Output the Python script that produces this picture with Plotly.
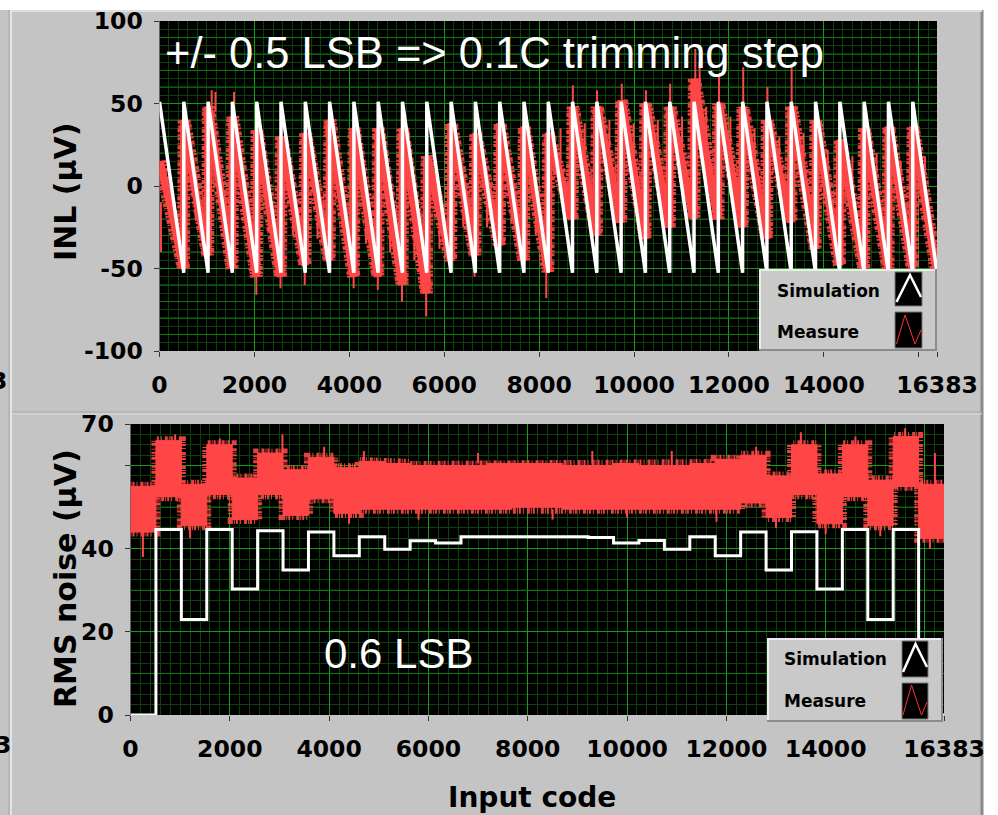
import plotly.graph_objects as go

W, H = 998, 815

# ---------------- data ----------------
segment_codes = [0, 512, 1024, 1536, 2048, 2560, 3072, 3584, 4096, 4608, 5120, 5632,
                 6144, 6656, 7168, 7680, 8192, 8704, 9216, 9728, 10240, 10752, 11264,
                 11776, 12288, 12800, 13312, 13824, 14336, 14848, 15360, 15872]
last_code = 16383

# INL (uV) - simulation sawtooth: value at start and end of each 512-code segment
sim_inl_start = [51, 51, 51, 51, 51, 51, 51, 51, 51, 51, 51, 51, 51, 51, 51, 51,
                 51, 51, 51, 51, 51, 51, 51, 51, 51, 51, 51, 51, 51, 51, 51, 51]
sim_inl_end = [-52.5, -52.5, -52.5, -52.5, -52.5, -52.5, -52.5, -52.5, -52.5, -52.5, -52.5,
               -52.5, -52.5, -52.5, -52.5, -52.5, -52.5, -52.5, -52.5, -52.5, -52.5, -52.5,
               -52.5, -52.5, -52.5, -52.5, -52.5, -52.5, -52.5, -52.5, -52.5, -52.5]

# INL (uV) - measurement, value at start, middle and end of each segment
meas_inl_start = [15, 40, 48, 42, 34, 30, 32, 40, 35, 35, 35, 18, 38, 32, 38, 36,
                  32, 48, 48, 52, 50, 48, 65, 50, 48, 40, 48, 40, 28, 35, 36, 36]
meas_inl_mid = [-15, -5, -2, -8, -12, -12, -10, -10, -14, -16, -18, -14, -4, -4, -6, -10,
                8, 10, 12, 10, 12, 14, 18, 12, 8, 8, 6, -4, -10, -8, -8, -8]
meas_inl_end = [-50, -42, -50, -55, -55, -48, -45, -55, -55, -60, -65, -45, -42, -36, -45, -52,
                -20, -30, -22, -32, -25, -20, -20, -25, -32, -22, -38, -48, -50, -50, -50, -52]
# isolated INL measurement spikes: code, from, to
inl_spike_code = [30, 1100, 1180, 1570, 2040, 2550, 3060, 4090, 4600, 5110, 5620, 6640,
                  8150, 8710, 9220, 9740, 10250, 10760, 11290, 11380, 11790, 12300, 12810, 13320,
                  760, 1290, 1800, 2300, 2810, 3330, 3850, 4350, 4860, 5370, 5900, 6400, 6900,
                  7420, 7930, 8450, 8960, 9480, 9990, 10500, 11010, 11520, 12030, 12540, 13060,
                  13570, 14080, 14600, 15110, 15620, 16130]
inl_spike_from = [-10, 45, 45, 40, -55, -50, -50, -50, -50, -55, -60, -40,
                  -50, 45, 45, 48, 45, 45, 60, 55, 48, 45, 40, 45,
                  0, 10, 5, -5, -5, -10, -5, -10, -10, -15, -10, 0, 0,
                  0, -5, 15, 15, 15, 15, 18, 20, 25, 18, 12, 10,
                  10, 0, -5, -5, -5, -5]
inl_spike_to = [-40, 58, 57, 57, -66, -62, -60, -62, -63, -70, -79, -55,
                -68, 61, 58, 62, 58, 62, 83, 75, 68, 72, 60, 72,
                -20, -15, -18, -28, -30, -32, -25, -35, -40, -45, -38, -25, -25,
                -22, -30, 35, 38, 40, 38, 40, 42, 48, 42, 35, 30,
                32, 22, 18, 20, 15, 18]

# RMS noise (uV) - simulation level per segment
sim_rms = [0, 44.6, 23.0, 44.6, 30.3, 44.3, 34.9, 44.0, 38.3, 42.9, 39.9, 41.9, 41.4, 42.9,
           42.9, 42.9, 42.9, 42.9, 42.7, 41.4, 42.0, 39.9, 42.9, 38.3, 44.0, 34.9, 44.1, 30.3,
           44.6, 23.0, 44.6, 0]
# RMS noise (uV) - measurement band per segment
meas_rms_low = [44, 52.5, 45.5, 53, 47, 53, 48, 52, 48.5, 49.5, 49.5, 49.5, 49.5, 49.5, 49.5, 50,
                50, 49.5, 49.5, 49.5, 49.5, 49.5, 49.5, 49.5, 51, 47.5, 53, 46, 52.5, 45.5, 55, 42.5]
meas_rms_high = [55, 66, 55.5, 65, 57, 63, 59, 62, 59.5, 61, 60.5, 60, 60, 60, 60.5, 60.5,
                 60.5, 60, 60, 60.5, 60, 60, 60.5, 61.5, 62.5, 57.5, 65, 58, 65, 56.5, 67, 55.5]
rms_spike_code = [250, 900, 1200, 1800, 3060, 3900, 4400, 4700, 5800, 7000, 8500, 9300, 10000,
                  10900, 11800, 12600, 13000, 13500, 14000, 14600, 15100, 15600, 16100, 16200]
rms_spike_from = [44, 66, 45.5, 65, 63, 62, 48.5, 61, 49.5, 60.5, 49.5, 60.5, 49.5,
                  60, 49.5, 62.5, 47.5, 65, 46, 65, 45.5, 67, 42.5, 55.5]
rms_spike_to = [38, 67.5, 42.5, 66.5, 67.5, 64.5, 46, 63.5, 47, 63, 47, 63.5, 47.5,
                63.5, 46.5, 64.5, 45, 68, 43.5, 67, 43, 69, 40, 63]

x_tickvals = [0, 2000, 4000, 6000, 8000, 10000, 12000, 14000, 16000, 16383]
x_ticktext = ["0", "2000", "4000", "6000", "8000", "10000", "12000", "14000", "", "16383"]
inl_tickvals = [-100, -50, 0, 50, 100]
inl_ticktext = ["-100", "-50", "0", "50", "100"]
rms_tickvals = [0, 20, 40, 60, 70]
rms_ticktext = ["0", "20", "40", "", "70"]

# ---------------- helpers ----------------
def px(x):
    return x / W


def py(y):
    return 1 - y / H


RED = "#ff4646"
GRID_MAJOR = "#12a012"
GRID_MED = "#0b7d0b"
GRID_MINOR = "#0b420b"
PANEL = "#c4c4c4"
FUZZ_INL = "3px,1px,2px,2px,4px,1px,1px,3px"
FUZZ_RMS = "1px,1px,2px,2px,1px,3px,3px,1px"

fig = go.Figure()

# ---- top: INL ----
mx, my = [], []
for k, c in enumerate(segment_codes):
    end = segment_codes[k + 1] if k + 1 < len(segment_codes) else last_code
    mx += [c + 6, (c + end) / 2, end - 8]
    my += [meas_inl_start[k], meas_inl_mid[k], meas_inl_end[k]]
fig.add_trace(go.Scatter(x=mx, y=my, mode="lines", line=dict(color=RED, width=13, dash=FUZZ_INL),
                         opacity=0.9, xaxis="x", yaxis="y", hoverinfo="skip"))
fig.add_trace(go.Scatter(x=mx, y=my, mode="lines", line=dict(color=RED, width=8),
                         xaxis="x", yaxis="y", hoverinfo="skip"))
sx, sy = [], []
for c, a, b in zip(inl_spike_code, inl_spike_from, inl_spike_to):
    sx += [c, c, None]
    sy += [a, b, None]
fig.add_trace(go.Scatter(x=sx, y=sy, mode="lines", line=dict(color=RED, width=2),
                         xaxis="x", yaxis="y", hoverinfo="skip"))
wx, wy = [], []
for k, c in enumerate(segment_codes):
    end = segment_codes[k + 1] - 1 if k + 1 < len(segment_codes) else last_code
    wx += [c, end]
    wy += [sim_inl_start[k], sim_inl_end[k]]
fig.add_trace(go.Scatter(x=wx, y=wy, mode="lines", line=dict(color="white", width=3.5),
                         xaxis="x", yaxis="y", hoverinfo="skip"))

# ---- bottom: RMS noise ----
ux, uy, lx, ly = [], [], [], []
for k, c in enumerate(segment_codes):
    end = segment_codes[k + 1] if k + 1 < len(segment_codes) else last_code
    ux += [c, end]
    uy += [meas_rms_high[k], meas_rms_high[k]]
    lx += [c, end]
    ly += [meas_rms_low[k], meas_rms_low[k]]
fig.add_trace(go.Scatter(x=ux + lx[::-1], y=uy + ly[::-1], mode="lines", fill="toself",
                         fillcolor=RED, line=dict(color=RED, width=1),
                         xaxis="x2", yaxis="y2", hoverinfo="skip"))
for ex, ey in ((ux, uy), (lx, ly)):
    fig.add_trace(go.Scatter(x=ex, y=ey, mode="lines",
                             line=dict(color=RED, width=9, dash=FUZZ_RMS),
                             opacity=0.9, xaxis="x2", yaxis="y2", hoverinfo="skip"))
sx, sy = [], []
for c, a, b in zip(rms_spike_code, rms_spike_from, rms_spike_to):
    sx += [c, c, None]
    sy += [a, b, None]
fig.add_trace(go.Scatter(x=sx, y=sy, mode="lines", line=dict(color=RED, width=2),
                         xaxis="x2", yaxis="y2", hoverinfo="skip"))
fig.add_trace(go.Scatter(x=segment_codes + [last_code], y=sim_rms + [sim_rms[-1]],
                         mode="lines", line=dict(color="white", width=3, shape="hv"),
                         xaxis="x2", yaxis="y2", hoverinfo="skip"))

tickfont = dict(family="DejaVu Sans", size=23.5, color="black", weight="bold")

common_x = dict(range=[0, last_code], tickmode="array", tickvals=x_tickvals, ticktext=x_ticktext,
                showgrid=True, gridcolor=GRID_MAJOR, gridwidth=1, zeroline=False,
                ticks="outside", ticklen=5, tickcolor="#333", tickfont=tickfont,
                ticklabelstandoff=8, showline=False, automargin=False,
                minor=dict(dtick=200, tick0=0, showgrid=True, gridcolor=GRID_MINOR, ticks=""))

fig.update_layout(
    width=W, height=H, autosize=False,
    margin=dict(l=0, r=0, t=0, b=0, pad=0),
    paper_bgcolor=PANEL, plot_bgcolor="black", showlegend=False,
    xaxis=dict(domain=[px(159.5), px(937)], anchor="y", **common_x),
    yaxis=dict(domain=[py(351), py(21)], anchor="x", range=[-100, 100], tickmode="array",
               tickvals=inl_tickvals, ticktext=inl_ticktext, showgrid=True,
               gridcolor=GRID_MAJOR, zeroline=False,
               ticks="outside", ticklen=5, tickcolor="#333", tickfont=tickfont,
               ticklabelstandoff=6, automargin=False,
               minor=dict(dtick=5, tick0=0, showgrid=True, gridcolor=GRID_MINOR, ticks="")),
    xaxis2=dict(domain=[px(130.5), px(944)], anchor="y2", **common_x),
    yaxis2=dict(domain=[py(715), py(424)], anchor="x2", range=[0, 70], tickmode="array",
                tickvals=rms_tickvals, ticktext=rms_ticktext, showgrid=True,
                gridcolor=GRID_MAJOR, zeroline=False, ticks="outside", ticklen=5,
                tickcolor="#333", tickfont=tickfont, ticklabelstandoff=6, automargin=False,
                minor=dict(dtick=2.5, tick0=0, showgrid=True, gridcolor=GRID_MINOR, ticks="")),
)

shapes = []
# panel frame (white outside the panel)
shapes.append(dict(type="rect", xref="paper", yref="paper", x0=0, x1=1, y0=py(10), y1=1,
                   fillcolor="white", line=dict(width=0), layer="below"))
shapes.append(dict(type="rect", xref="paper", yref="paper", x0=px(983), x1=1, y0=0, y1=1,
                   fillcolor="white", line=dict(width=0), layer="below"))
shapes.append(dict(type="line", xref="paper", yref="paper", x0=px(982), x1=px(982), y0=0, y1=py(10),
                   line=dict(color="#8a8a8a", width=3), layer="below"))
shapes.append(dict(type="line", xref="paper", yref="paper", x0=px(11), x1=px(11), y0=0, y1=py(10),
                   line=dict(color="#e4e4e4", width=2), layer="below"))
shapes.append(dict(type="line", xref="paper", yref="paper", x0=px(9), x1=px(9), y0=0, y1=py(10),
                   line=dict(color="#a8a8a8", width=1), layer="below"))
shapes.append(dict(type="line", xref="paper", yref="paper", x0=px(12), x1=px(982), y0=py(11), y1=py(11),
                   line=dict(color="#dedede", width=2), layer="below"))
shapes.append(dict(type="line", xref="paper", yref="paper", x0=px(12), x1=px(982), y0=py(412), y1=py(412),
                   line=dict(color="#a9a9a9", width=1), layer="below"))
shapes.append(dict(type="line", xref="paper", yref="paper", x0=px(12), x1=px(982), y0=py(414), y1=py(414),
                   line=dict(color="#dcdcdc", width=1), layer="below"))

# medium grid lines
for v in [-90, -80, -70, -60, -40, -30, -20, -10, 10, 20, 30, 40, 60, 70, 80, 90]:
    shapes.append(dict(type="line", xref="x", yref="y", x0=0, x1=last_code, y0=v, y1=v,
                       line=dict(color=GRID_MED, width=1), layer="between"))
for v in [10, 30, 50]:
    shapes.append(dict(type="line", xref="x2", yref="y2", x0=0, x1=last_code, y0=v, y1=v,
                       line=dict(color=GRID_MED, width=1), layer="between"))


def legend_box(x0, y0, x1, y1, row1, row2, icon_x0, icon_x1, white_pts, red_pts):
    shapes.append(dict(type="rect", xref="paper", yref="paper", x0=px(x0), x1=px(x1),
                       y0=py(y1), y1=py(y0), fillcolor="#c9c9c9", line=dict(width=0)))
    shapes.append(dict(type="path", xref="paper", yref="paper",
                       path=f"M{px(x0+1)},{py(y1)} L{px(x0+1)},{py(y0+1)} L{px(x1)},{py(y0+1)}",
                       line=dict(color="#ececec", width=2)))
    shapes.append(dict(type="path", xref="paper", yref="paper",
                       path=f"M{px(x0)},{py(y1-1)} L{px(x1-1)},{py(y1-1)} L{px(x1-1)},{py(y0)}",
                       line=dict(color="#8c8c8c", width=2)))
    for (ya, yb) in (row1, row2):
        shapes.append(dict(type="rect", xref="paper", yref="paper", x0=px(icon_x0), x1=px(icon_x1),
                           y0=py(yb), y1=py(ya), fillcolor="black", line=dict(color="#777", width=1)))
    p = "M" + " L".join(f"{px(a)},{py(b)}" for a, b in white_pts)
    shapes.append(dict(type="path", xref="paper", yref="paper", path=p,
                       line=dict(color="white", width=2.5)))
    p = "M" + " L".join(f"{px(a)},{py(b)}" for a, b in red_pts)
    shapes.append(dict(type="path", xref="paper", yref="paper", path=p,
                       line=dict(color="#ff3030", width=1)))


legend_box(759, 269, 937, 351, (272, 306), (312, 348), 895, 922,
           [(896.5, 302), (910, 275), (921, 297)],
           [(896.5, 344), (905, 315), (915, 344), (921, 330)])
legend_box(767, 638, 943, 722, (641, 677), (683, 719), 902, 928,
           [(903, 672), (915.5, 644), (927, 667)],
           [(903, 715), (911.5, 685), (921.5, 715), (927, 702)])

fig.update_layout(shapes=shapes)

ann = []
lab = dict(family="DejaVu Sans", size=17, color="black", weight="bold")
ann += [
    dict(text="Simulation", x=px(775), y=py(291), xanchor="left", yanchor="middle", font=lab),
    dict(text="Measure", x=px(775), y=py(332), xanchor="left", yanchor="middle", font=lab),
    dict(text="Simulation", x=px(782), y=py(659), xanchor="left", yanchor="middle", font=lab),
    dict(text="Measure", x=px(782), y=py(701), xanchor="left", yanchor="middle", font=lab),
]
title_font = dict(family="DejaVu Sans", size=30, color="black", weight="bold")
ann += [
    dict(text="INL (µV)", x=px(66), y=py(192), textangle=-90, xanchor="center", yanchor="middle",
         font=title_font),
    dict(text="RMS noise (µV)", x=px(65), y=py(579), textangle=-90, xanchor="center",
         yanchor="middle", font=title_font),
    dict(text="Input code", x=px(532), y=py(797), xanchor="center", yanchor="middle",
         font=dict(family="DejaVu Sans", size=28, color="black", weight="bold")),
    dict(text="+/- 0.5 LSB => 0.1C trimming step", x=px(163), y=py(53), xanchor="left",
         yanchor="middle", font=dict(family="Liberation Sans", size=43.5, color="white")),
    dict(text="0.6 LSB", x=px(322), y=py(653), xanchor="left", yanchor="middle",
         font=dict(family="Liberation Sans", size=42, color="white")),
    dict(text="3", x=px(9), y=py(381), xanchor="right", yanchor="middle", font=tickfont),
    dict(text="3", x=px(13), y=py(745), xanchor="right", yanchor="middle", font=tickfont),
]
for a in ann:
    a.update(xref="paper", yref="paper", showarrow=False)
fig.update_layout(annotations=ann)

fig.write_html("out.html", config={"displayModeBar": False},
               post_script="document.body.style.margin='0';document.body.style.overflow='hidden';")
